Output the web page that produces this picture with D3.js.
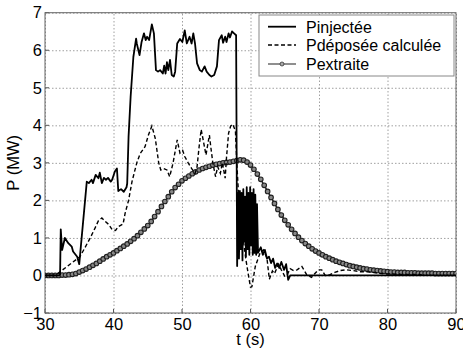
<!DOCTYPE html>
<html><head><meta charset="utf-8">
<script src="https://cdn.jsdelivr.net/npm/d3@7"></script>
<style>body{margin:0;background:#fff}svg{display:block;font-family:Arial,"Liberation Sans",sans-serif}</style>
</head><body><svg id="c" width="463" height="349"></svg>
<script>
const xTicks = [30,40,50,60,70,80,90];
const yTicks = [-1,0,1,2,3,4,5,6,7];
const seriesNames = ["Pinjectée","Pdéposée calculée","Pextraite"];

// Pinjectée [t, MW]
const pInj = [[30,0],[31,0],[32,0],[32.2,0.02],[32.3,1.23],[32.5,0.68],[32.9,1.0],[33.4,0.86],[33.9,0.77],[34.1,0.64],[34.7,0.5],[35.0,0.3],
[36.1,2.5],[36.4,2.46],[36.8,2.55],[37.0,2.46],[37.4,2.68],[37.8,2.59],[38.0,2.74],[38.3,2.46],[38.6,2.6],[38.9,2.55],[39.2,2.6],[39.6,2.5],[39.8,2.55],[40.2,2.77],[40.5,2.85],[40.7,2.25],[41.1,2.3],[41.5,2.23],[41.9,2.35],[42.0,2.45],
[42.2,3.7],[42.5,4.76],[42.9,5.82],[43.3,6.31],[43.4,6.18],[43.8,5.87],[44.1,6.22],[44.45,6.45],[44.7,6.27],[44.9,6.36],[45.2,6.27],[45.6,6.69],[45.9,6.45],[46.2,5.47],[46.5,5.43],[46.8,5.47],[47.2,5.38],[47.4,5.59],[47.6,5.38],[47.8,5.68],[48.0,5.47],[48.25,5.74],[48.5,5.34],[48.8,5.3],[49.0,5.43],
[49.3,6.18],[49.7,6.3],[50.05,6.22],[50.4,6.53],[50.7,6.18],[51.1,6.36],[51.4,6.18],[51.65,6.45],[51.9,6.18],[52.2,5.65],[52.6,5.47],[52.9,5.43],[53.3,5.57],[53.6,5.43],[54.0,5.34],[54.3,5.3],[54.7,5.34],[55.1,5.57],[55.4,6.27],[55.8,6.4],[56.0,6.2],[56.3,6.36],[56.5,6.22],[56.8,6.45],[57.0,6.34],[57.3,6.5],[57.6,6.45],[57.9,6.4],
[58.05,0.25],[58.2,2.2],[58.32,0.45],[58.45,2.25],[58.58,0.7],[58.7,2.2],[58.83,0.4],[58.95,2.3],[59.08,0.9],[59.2,2.1],[59.33,0.5],[59.45,2.35],[59.58,0.7],[59.7,2.2],[59.83,0.55],[59.95,2.35],[60.08,0.8],[60.2,2.2],[60.33,0.55],[60.45,2.3],[60.58,0.6],[60.7,2.15],[60.83,0.55],[60.95,1.9],[61.1,0.6],
[61.5,0.75],[61.8,0.55],[62.1,0.68],[62.4,0.45],[62.7,0.5],[63.0,0.33],[63.3,0.45],[63.6,0.2],[63.9,0.32],[64.2,0.2],[64.5,0.36],[64.9,0.15],[65.2,0.3],[65.5,-0.12],[65.8,0.0],[70,0.0],[80,0.0],[90,0.0]];

// Pdéposée calculée [t, MW]
const pDep = [[30,0],[31,0],[31.5,0.0],[33.3,0.25],[35.1,0.5],[35.8,0.73],[36.6,1.0],[37.3,1.26],[37.8,1.46],[38.3,1.53],[38.8,1.44],[39.3,1.36],[39.8,1.22],[40.3,1.2],[40.7,1.3],[41.4,1.37],[41.7,1.66],[42.2,2.0],[42.7,2.5],[43.4,3.0],[43.9,3.25],[44.6,3.43],[45.1,3.74],[45.6,3.98],[46.1,3.65],[46.6,3.0],[46.9,2.81],[47.3,2.85],[47.8,2.81],[48.2,2.63],[48.7,3.0],[49.3,3.61],[49.7,3.26],[50.1,3.33],[50.4,3.17],[50.9,3.0],[51.4,2.85],[51.9,2.72],[52.2,2.9],[52.5,3.43],[52.8,3.89],[53.1,3.6],[53.5,3.21],[54.0,3.74],[54.2,3.43],[54.5,3.0],[54.9,2.63],[55.2,2.9],[55.6,2.72],[55.9,3.0],[56.3,2.59],[56.5,3.15],[56.8,3.79],[57.1,3.98],[57.4,4.03],[57.8,3.85],[58.0,3.0],[58.3,2.0],[58.7,1.3],[59.3,0.46],[59.7,0.0],[60.0,-0.31],[60.2,-0.3],[60.7,0.24],[61.4,0.6],[61.9,0.68],[62.4,0.46],[62.75,-0.1],[63.2,0.12],[63.5,0.05],[64.1,0.3],[64.5,0.15],[65.0,-0.02],[65.3,0.0],[65.8,0.18],[66.3,0.13],[66.8,0.15],[67.5,0.24],[68.2,0.02],[68.9,-0.05],[69.4,0.05],[69.9,0.15],[70.4,0.15],[70.9,0.0],[71.6,0.02],[72.3,0.08],[73.1,0.13],[74.0,0.15],[75.0,0.13],[76.0,0.1],[77.0,0.1],[78.0,0.08],[79.0,0.05],[80,0.04],[82,0.03],[84,0.03],[85,0.02]];

// Pextraite [t, MW]
const pExt = [[30,0],[30.5,0],[31,0],[31.5,0],[32,0],[32.5,0.01],[33,0.01],[33.5,0.02],[34,0.03],[34.5,0.05],[35,0.09],[35.5,0.13],[36,0.17],[36.5,0.22],[37,0.27],[37.5,0.32],[38,0.38],[38.5,0.44],[39,0.50],[39.5,0.55],[40,0.60],[40.5,0.66],[41,0.72],[41.5,0.78],[42,0.84],[42.5,0.91],[43,0.98],[43.5,1.06],[44,1.15],[44.5,1.24],[45,1.33],[45.5,1.44],[46,1.57],[46.5,1.70],[47,1.84],[47.5,1.97],[48,2.10],[48.5,2.23],[49,2.34],[49.5,2.43],[50,2.52],[50.5,2.59],[51,2.65],[51.5,2.71],[52,2.76],[52.5,2.81],[53,2.85],[53.5,2.88],[54,2.91],[54.5,2.94],[55,2.96],[55.5,2.98],[56,3.00],[56.5,3.01],[57,3.02],[57.5,3.04],[58,3.06],[58.5,3.08],[59,3.07],[59.5,3.02],[60,2.94],[60.5,2.83],[61,2.70],[61.5,2.56],[62,2.40],[62.5,2.24],[63,2.08],[63.5,1.92],[64,1.76],[64.5,1.61],[65,1.47],[65.5,1.35],[66,1.23],[66.5,1.12],[67,1.02],[67.5,0.93],[68,0.85],[68.5,0.78],[69,0.71],[69.5,0.65],[70,0.60],[70.5,0.55],[71,0.50],[71.5,0.46],[72,0.42],[72.5,0.38],[73,0.35],[73.5,0.32],[74,0.29],[74.5,0.26],[75,0.24],[75.5,0.22],[76,0.20],[76.5,0.18],[77,0.17],[77.5,0.15],[78,0.14],[78.5,0.13],[79,0.12],[79.5,0.11],[80,0.10],[80.5,0.09],[81,0.09],[81.5,0.08],[82,0.08],[82.5,0.08],[83,0.07],[83.5,0.07],[84,0.07],[84.5,0.06],[85,0.06],[85.5,0.06],[86,0.06],[86.5,0.06],[87,0.05],[87.5,0.05],[88,0.05],[88.5,0.05],[89,0.05],[89.5,0.05],[90,0.05]];

const L = 45, R = 456, T = 12.7, B = 313;
const svg = d3.select("#c");
const x = d3.scaleLinear().domain([30,90]).range([L,R]);
const y = d3.scaleLinear().domain([-1,7]).range([B,T]);

const gx = svg.append("g").attr("transform",`translate(0,${B})`)
  .call(d3.axisBottom(x).tickValues(xTicks).tickSize(-(B-T)).tickPadding(5).tickFormat(d3.format("d")));
const gy = svg.append("g").attr("transform",`translate(${L},0)`)
  .call(d3.axisLeft(y).tickValues(yTicks).tickSize(-(R-L)).tickPadding(3).tickFormat(d3.format("d")));
[gx,gy].forEach(g=>{
  g.select(".domain").remove();
  g.selectAll(".tick line").attr("stroke","#888").attr("stroke-width",0.8).attr("stroke-dasharray","1.5,2");
  g.selectAll(".tick text").attr("fill","#000").attr("font-size",16.5).attr("font-family","Arial, 'Liberation Sans', sans-serif");
});
svg.append("g").selectAll("line").data(xTicks).join("line")
  .attr("x1",d=>x(d)).attr("x2",d=>x(d)).attr("y1",B).attr("y2",B-4).attr("stroke","#555");
svg.append("g").selectAll("line").data(yTicks).join("line")
  .attr("x1",L).attr("x2",L+4).attr("y1",d=>y(d)).attr("y2",d=>y(d)).attr("stroke","#555");

svg.append("rect").attr("x",L).attr("y",T).attr("width",R-L).attr("height",B-T)
  .attr("fill","none").attr("stroke","#666").attr("stroke-width",1);

const line = d3.line().x(d=>x(d[0])).y(d=>y(d[1]));
svg.append("defs").append("clipPath").attr("id","pc").append("rect")
  .attr("x",L).attr("y",T).attr("width",R-L).attr("height",B-T);
const plot = svg.append("g").attr("clip-path","url(#pc)");

plot.append("path").datum(pExt).attr("d",line).attr("fill","none").attr("stroke","#222").attr("stroke-width",1.5);
plot.append("g").selectAll("circle").data(pExt).join("circle")
  .attr("cx",d=>x(d[0])).attr("cy",d=>y(d[1])).attr("r",2.3)
  .attr("fill","#888").attr("stroke","#222").attr("stroke-width",1.1);
plot.append("path").datum(pDep).attr("d",line).attr("fill","none").attr("stroke","#000").attr("stroke-width",1.4).attr("stroke-dasharray","4,2.5");
plot.append("path").datum(pInj).attr("d",line).attr("fill","none").attr("stroke","#000").attr("stroke-width",1.8).attr("stroke-linejoin","round");

svg.append("text").attr("x",(L+R)/2).attr("y",345).attr("text-anchor","middle").attr("font-size",16.5).text("t (s)");
svg.append("text").attr("transform",`translate(19,${(T+B)/2}) rotate(-90)`).attr("text-anchor","middle").attr("font-size",16.5).text("P (MW)");

const lg = svg.append("g");
lg.append("rect").attr("x",259).attr("y",15).attr("width",195).attr("height",61).attr("fill","#fff").attr("stroke","#888").attr("stroke-width",1);
const rows = [26.7,45,64];
const styles = [{dash:null,w:1.8},{dash:"4,2.5",w:1.4},{dash:null,w:1.2,marker:true}];
seriesNames.forEach((n,i)=>{
  const s = styles[i];
  lg.append("line").attr("x1",268).attr("x2",296).attr("y1",rows[i]).attr("y2",rows[i])
    .attr("stroke",i===2?"#444":"#000").attr("stroke-width",s.w).attr("stroke-dasharray",s.dash);
  if(s.marker) lg.append("circle").attr("cx",282).attr("cy",rows[i]).attr("r",2).attr("fill","#aaa").attr("stroke","#333").attr("stroke-width",0.8);
  lg.append("text").attr("x",306).attr("y",rows[i]+5.8).attr("font-size",16).text(n);
});
</script></body></html>
